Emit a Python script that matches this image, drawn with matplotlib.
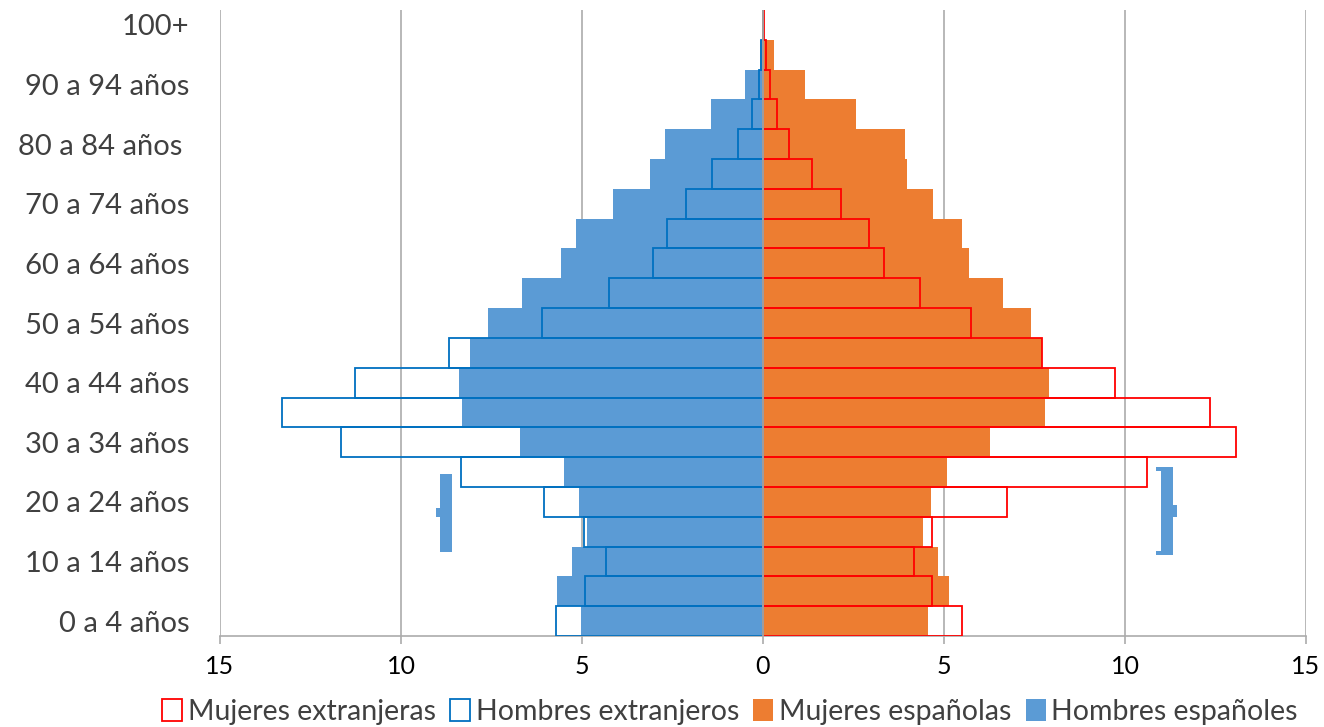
import numpy as np
import matplotlib
matplotlib.use("Agg")
import matplotlib.pyplot as plt
from matplotlib.patches import Patch, Rectangle

plt.rcParams['font.family'] = ['Lato', 'DejaVu Sans']

# Age groups (bottom to top)
ages = ["0 a 4 años", "5 a 9 años", "10 a 14 años", "15 a 19 años", "20 a 24 años",
        "25 a 29 años", "30 a 34 años", "35 a 39 años", "40 a 44 años", "45 a 49 años",
        "50 a 54 años", "55 a 59 años", "60 a 64 años", "65 a 69 años", "70 a 74 años",
        "75 a 79 años", "80 a 84 años ", "85 a 89 años", "90 a 94 años", "95 a 99 años", "100+"]

hombres_espanoles = [5.03, 5.68, 5.29, 4.85, 5.08, 5.51, 6.71, 8.31, 8.40, 8.09,
                     7.59, 6.65, 5.59, 5.16, 4.15, 3.12, 2.70, 1.43, 0.50, 0.07, 0.02]
hombres_extranjeros = [5.73, 4.93, 4.35, 4.95, 6.06, 8.33, 11.67, 13.30, 11.26, 8.68,
                       6.10, 4.26, 3.05, 2.64, 2.13, 1.40, 0.69, 0.30, 0.12, 0.05, 0.01]
mujeres_espanolas = [4.56, 5.15, 4.83, 4.42, 4.64, 5.08, 6.27, 7.78, 7.91, 7.70,
                     7.41, 6.63, 5.68, 5.50, 4.69, 3.99, 3.92, 2.58, 1.17, 0.31, 0.04]
mujeres_extranjeras = [5.51, 4.67, 4.16, 4.68, 6.74, 10.60, 13.06, 12.36, 9.73, 7.72,
                       5.74, 4.33, 3.34, 2.92, 2.15, 1.36, 0.71, 0.38, 0.19, 0.07, 0.02]

xticks = [-15, -10, -5, 0, 5, 10, 15]
xticklabels = ["15", "10", "5", "0", "5", "10", "15"]

C_ORANGE = '#ED7D31'
C_BLUE = '#5B9BD5'
C_BLUE_EDGE = '#0070C0'
C_RED = '#FF0000'
C_GRID = '#ABABAB'
C_TEXT = '#404040'

W, H = 1324, 727
fig = plt.figure(figsize=(W / 100, H / 100), dpi=100)
ax = fig.add_axes([220 / W, 1 - 636 / H, (1306 - 220) / W, (636 - 10) / H])

y = np.arange(len(ages))
he = np.array(hombres_espanoles)
hx = np.array(hombres_extranjeros)
me = np.array(mujeres_espanolas)
mx = np.array(mujeres_extranjeras)

ax.barh(y, -he, height=1.0, color=C_BLUE, edgecolor='none', zorder=2)
ax.barh(y, me, height=1.0, color=C_ORANGE, edgecolor='none', zorder=2)
ax.barh(y, -hx, height=1.0, fill=False, edgecolor=C_BLUE_EDGE, linewidth=1.3, zorder=3)
ax.barh(y, mx, height=1.0, fill=False, edgecolor=C_RED, linewidth=1.3, zorder=3)

ax.axvline(0, color='#A0A0A0', linewidth=1.4, zorder=4)

ax.set_xlim(-15, 15)
ax.set_ylim(-0.5, len(ages) - 0.5)
ax.set_xticks(xticks)
ax.set_xticklabels(xticklabels, fontsize=18, color='black')
ax.set_yticks(y[::2])
ax.set_yticklabels([ages[i] for i in range(0, len(ages), 2)], fontsize=21, color=C_TEXT)
ax.tick_params(axis='y', length=0, pad=22)
ax.tick_params(axis='x', length=6, width=1.2, color=C_GRID, pad=8)

ax.xaxis.grid(True, color=C_GRID, linewidth=1.2, zorder=0)
ax.set_axisbelow(True)
for s in ['left', 'top', 'right']:
    ax.spines[s].set_visible(False)
ax.spines['bottom'].set_color(C_GRID)
ax.spines['bottom'].set_linewidth(1.2)

# decorative braces (annotation shapes)
def rect(x0, x1, y0, y1):
    ax.add_patch(Rectangle((x0, y0), x1 - x0, y1 - y0, facecolor=C_BLUE,
                           edgecolor='none', zorder=5))

# left brace
rect(-8.92, -8.59, 2.32, 4.93)
rect(-9.03, -8.90, 3.49, 3.79)
# right brace
rect(10.99, 11.32, 2.22, 5.17)
rect(10.86, 11.0, 5.04, 5.17)
rect(10.86, 11.0, 2.22, 2.35)
rect(11.30, 11.44, 3.49, 3.89)

handles = [
    Patch(facecolor='white', edgecolor=C_RED, linewidth=1.3, label='Mujeres extranjeras'),
    Patch(facecolor='white', edgecolor=C_BLUE_EDGE, linewidth=1.3, label='Hombres extranjeros'),
    Patch(facecolor=C_ORANGE, edgecolor='none', label='Mujeres españolas'),
    Patch(facecolor=C_BLUE, edgecolor='none', label='Hombres españoles'),
]
leg = fig.legend(handles=handles, loc='center', bbox_to_anchor=(730 / W, 1 - 712 / H),
                 ncol=4, frameon=False, fontsize=20.5, handlelength=0.7, handleheight=0.8,
                 handletextpad=0.2, columnspacing=0.5, borderaxespad=0)
for t in leg.get_texts():
    t.set_color(C_TEXT)

fig.savefig('out.png', dpi=100)
